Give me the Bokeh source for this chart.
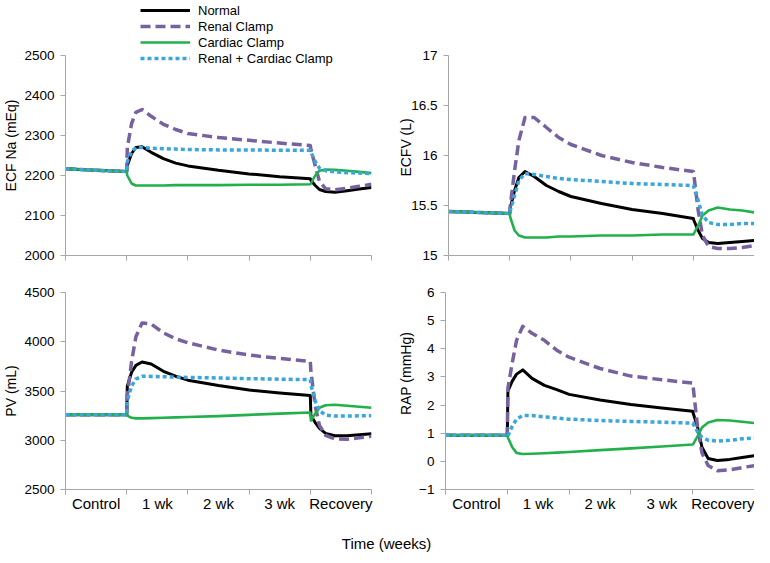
from bokeh.plotting import figure
from bokeh.layouts import column, row
from bokeh.models import Range1d, FixedTicker, Legend, LegendItem, CustomJSTickFormatter
from bokeh.core.properties import value
from bokeh.embed import file_html
from bokeh.resources import INLINE

# ---------------- data ----------------
categories = ["Control", "1 wk", "2 wk", "3 wk", "Recovery"]
series_names = ["Normal", "Renal Clamp", "Cardiac Clamp", "Renal + Cardiac Clamp"]

# time in week-units: 0-1 control, 1-4 clamp (weeks 1-3), 4-5 recovery
t = [0, 0.5, 1.0, 1.01, 1.08, 1.15, 1.25, 1.4, 1.6, 1.8, 2.0, 2.5, 3.0, 3.5,
     4.0, 4.01, 4.08, 4.15, 4.25, 4.4, 4.6, 4.8, 5.0]

ecfna_normal = [2217, 2213, 2210, 2225, 2255, 2270, 2272, 2258, 2242, 2231, 2224, 2213, 2204, 2197,
                2192, 2188, 2175, 2165, 2160, 2158, 2162, 2166, 2170]
ecfna_renal = [2217, 2213, 2210, 2270, 2330, 2358, 2365, 2348, 2328, 2315, 2305, 2295, 2288, 2281,
               2275, 2265, 2225, 2185, 2167, 2164, 2168, 2173, 2178]
ecfna_cardiac = [2217, 2213, 2210, 2200, 2180, 2175, 2175, 2175, 2175, 2176, 2176, 2176, 2177, 2177,
                 2178, 2180, 2200, 2212, 2215, 2214, 2212, 2209, 2206]
ecfna_both = [2217, 2213, 2210, 2235, 2260, 2270, 2270, 2268, 2267, 2266, 2265, 2264, 2264, 2263,
              2263, 2258, 2235, 2218, 2212, 2209, 2207, 2206, 2205]

ecfv_normal = [15.44, 15.43, 15.42, 15.48, 15.65, 15.78, 15.84, 15.79, 15.70, 15.64, 15.59, 15.52, 15.46, 15.42,
               15.37, 15.35, 15.25, 15.17, 15.13, 15.12, 15.13, 15.14, 15.15]
ecfv_renal = [15.44, 15.43, 15.42, 15.50, 15.85, 16.15, 16.38, 16.38, 16.28, 16.18, 16.11, 16.00, 15.93, 15.88,
              15.84, 15.80, 15.45, 15.20, 15.09, 15.07, 15.07, 15.08, 15.10]
ecfv_cardiac = [15.44, 15.43, 15.42, 15.38, 15.25, 15.20, 15.18, 15.18, 15.18, 15.19, 15.19, 15.20, 15.20, 15.21,
                15.21, 15.22, 15.30, 15.40, 15.45, 15.48, 15.46, 15.45, 15.43]
ecfv_both = [15.44, 15.43, 15.42, 15.45, 15.60, 15.75, 15.82, 15.81, 15.79, 15.77, 15.76, 15.74, 15.72, 15.71,
             15.70, 15.68, 15.55, 15.40, 15.33, 15.31, 15.31, 15.32, 15.32]

pv_normal = [3260, 3260, 3260, 3550, 3690, 3760, 3795, 3775, 3700, 3650, 3610, 3555, 3510, 3480,
             3455, 3250, 3180, 3120, 3070, 3045, 3045, 3055, 3065]
pv_renal = [3260, 3260, 3260, 3450, 3800, 4050, 4190, 4180, 4090, 4030, 3990, 3915, 3865, 3830,
            3800, 3700, 3350, 3150, 3050, 3015, 3010, 3025, 3040]
pv_cardiac = [3260, 3260, 3260, 3250, 3228, 3222, 3222, 3225, 3228, 3232, 3236, 3245, 3258, 3270,
              3282, 3200, 3270, 3330, 3355, 3360, 3350, 3340, 3330]
pv_both = [3260, 3260, 3260, 3400, 3550, 3620, 3650, 3648, 3645, 3641, 3638, 3632, 3625, 3620,
           3615, 3560, 3400, 3300, 3255, 3245, 3245, 3248, 3250]

rap_normal = [0.93, 0.93, 0.93, 2.50, 2.85, 3.10, 3.25, 2.95, 2.70, 2.55, 2.38, 2.18, 2.02, 1.90,
              1.78, 1.70, 1.20, 0.50, 0.10, 0.03, 0.07, 0.14, 0.20]
rap_renal = [0.93, 0.93, 0.93, 2.60, 3.50, 4.30, 4.80, 4.55, 4.30, 3.95, 3.70, 3.30, 3.03, 2.90,
             2.78, 2.60, 1.20, 0.30, -0.15, -0.33, -0.30, -0.22, -0.15]
rap_cardiac = [0.93, 0.93, 0.93, 0.85, 0.50, 0.30, 0.26, 0.27, 0.29, 0.31, 0.33, 0.40, 0.46, 0.53,
               0.60, 0.62, 0.90, 1.20, 1.38, 1.47, 1.45, 1.41, 1.36]
rap_both = [0.93, 0.93, 0.93, 0.90, 1.25, 1.50, 1.63, 1.63, 1.58, 1.54, 1.50, 1.45, 1.42, 1.39,
            1.36, 1.32, 1.05, 0.85, 0.75, 0.72, 0.75, 0.80, 0.83]

yticks_ecfna = [2000, 2100, 2200, 2300, 2400, 2500]
yticks_ecfv = [15, 15.5, 16, 16.5, 17]
yticks_pv = [2500, 3000, 3500, 4000, 4500]
yticks_rap = [-1, 0, 1, 2, 3, 4, 5, 6]

# ---------------- styling ----------------
FONT = "Liberation Sans"
AX = "#A6A6A6"
NB = "\u00a0"  # non-breaking spaces nudge the centred axis titles along the axis
styles = [
    dict(color="#000000", line_width=3.0),
    dict(color="#7762A0", line_width=3.5, line_dash="10 5"),
    dict(color="#22B04B", line_width=2.6),
    dict(color="#3AA6DD", line_width=3.5, line_dash="4 3"),
]

TOP_STRETCH = 255 / 200  # top-row frames reach the page top; axis stops at its last tick


def panel(width, height, bl, bt, bb, br, yr, yticks, ylabel, series, show_x_labels,
          label_standoff, x_standoff, fmt=None, stretch=1.0):
    y_end = yr[0] + (yr[1] - yr[0]) * stretch
    p = figure(width=width, height=height, output_backend="svg", toolbar_location=None,
               x_range=Range1d(0, 5), y_range=Range1d(yr[0], y_end),
               min_border_left=bl, min_border_top=bt, min_border_bottom=bb, min_border_right=br)
    p.outline_line_color = None
    p.grid.visible = False
    p.background_fill_color = "white"
    p.border_fill_color = "white"
    renderers = []
    for ys, st in zip(series, styles):
        r = p.line(t, ys, line_cap="butt", line_join="round", **st)
        renderers.append(r)
    # x axis
    xa = p.xaxis[0]
    bounds = list(range(len(categories) + 1))
    if show_x_labels:
        xa.ticker = FixedTicker(ticks=[i + 0.5 for i in range(len(categories))], minor_ticks=bounds)
        xa.major_label_overrides = {i + 0.5: c for i, c in enumerate(categories)}
        xa.major_label_text_font_size = "15px"
    else:
        xa.ticker = FixedTicker(ticks=[], minor_ticks=bounds)
    xa.major_tick_out = 0
    xa.major_tick_in = 0
    xa.minor_tick_out = 5
    xa.minor_tick_in = 0
    xa.axis_line_color = AX
    xa.minor_tick_line_color = AX
    xa.major_label_text_font = FONT
    xa.major_label_text_color = "#000000"
    xa.major_label_standoff = x_standoff
    # y axis
    ya = p.yaxis[0]
    ya.ticker = FixedTicker(ticks=yticks)
    ya.bounds = (yr[0], yr[1])
    if fmt is not None:
        ya.formatter = fmt
    ya.major_tick_out = 5
    ya.major_tick_in = 0
    ya.minor_tick_out = 0
    ya.minor_tick_in = 0
    ya.axis_line_color = AX
    ya.major_tick_line_color = AX
    ya.major_label_text_font = FONT
    ya.major_label_text_font_size = "13.5px"
    ya.major_label_text_color = "#000000"
    ya.major_label_standoff = 6
    ya.axis_label = ylabel
    ya.axis_label_text_font = FONT
    ya.axis_label_text_font_size = "14px"
    ya.axis_label_text_font_style = "normal"
    ya.axis_label_text_color = "#000000"
    ya.axis_label_standoff = label_standoff
    return p, renderers


p_tl, rend = panel(395, 272, 59, 0, 17, 24, (2000, 2500), yticks_ecfna, "ECF Na (mEq)" + NB * 9,
                   [ecfna_normal, ecfna_renal, ecfna_cardiac, ecfna_both], False, 2, 4,
                   stretch=TOP_STRETCH)
p_tr, _ = panel(359, 272, 48, 0, 17, 0, (15, 17), yticks_ecfv, "ECFV (L)" + NB * 10,
                [ecfv_normal, ecfv_renal, ecfv_cardiac, ecfv_both], False, -6, 4,
                fmt=CustomJSTickFormatter(code="return tick.toString();"), stretch=TOP_STRETCH)
p_bl, _ = panel(395, 248, 59, 20, 31, 24, (2500, 4500), yticks_pv, "PV (mL)",
                [pv_normal, pv_renal, pv_cardiac, pv_both], True, 2, 0)
p_br, _ = panel(359, 248, 48, 20, 31, 0, (-1, 6), yticks_rap, NB * 9 + "RAP (mmHg)",
                [rap_normal, rap_renal, rap_cardiac, rap_both], True, 2, 0)

legend = Legend(items=[LegendItem(label=n, renderers=[r]) for n, r in zip(series_names, rend)],
                location=(75, 189), orientation="vertical",
                padding=0, margin=0, spacing=0, label_standoff=8,
                glyph_width=50, glyph_height=16, label_height=16,
                label_text_font=FONT, label_text_font_size="13px", label_text_color="#000000",
                border_line_alpha=0, background_fill_alpha=0)
p_tl.add_layout(legend)

# bottom x-axis title
p_lab = figure(width=754, height=35, output_backend="svg", toolbar_location=None,
               x_range=Range1d(0, 754), y_range=Range1d(0, 35), min_border=0)
p_lab.axis.visible = False
p_lab.grid.visible = False
p_lab.outline_line_color = None
p_lab.text(x=[386], y=[12], text=["Time (weeks)"], text_font=value(FONT),
           text_font_size="15px", text_align="center", text_baseline="middle", text_color="#000000")

layout = column(row(p_tl, p_tr), row(p_bl, p_br), p_lab)

with open("out.html", "w") as f:
    f.write(file_html(layout, INLINE))
